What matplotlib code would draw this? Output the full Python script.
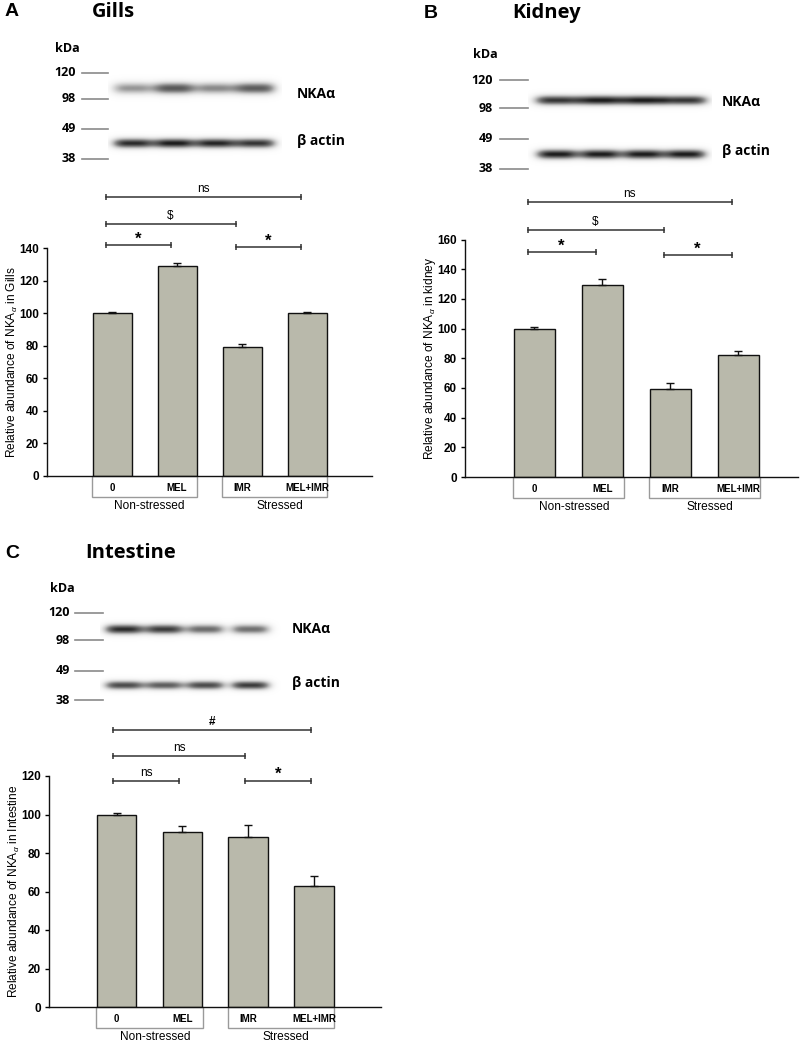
import numpy as np
import matplotlib
matplotlib.use('Agg')
import matplotlib.pyplot as plt
from matplotlib.patches import Rectangle
from matplotlib.transforms import blended_transform_factory

plt.rcParams['font.family'] = ['Liberation Sans', 'DejaVu Sans']
plt.rcParams['mathtext.fontset'] = 'custom'
plt.rcParams['mathtext.rm'] = 'Liberation Sans'
plt.rcParams['mathtext.it'] = 'Liberation Sans:italic'

# ---- data ----
groups = ['0', 'MEL', 'IMR', 'MEL+IMR']
conditions = ['Non-stressed', 'Stressed']

gills_mean = [100, 129, 79.5, 100.2]
gills_err = [1.0, 2.0, 1.5, 0.5]
gills_ticks = [0, 20, 40, 60, 80, 100, 120, 140]
gills_brackets = [(0, 3, 'ns'), (0, 2, '$'), (0, 1, '*'), (2, 3, '*')]
gills_bracket_y = [171.3, 154.7, 141.8, 140.6]

kidney_mean = [100, 129.5, 59, 82]
kidney_err = [0.8, 4.0, 4.5, 3.0]
kidney_ticks = [0, 20, 40, 60, 80, 100, 120, 140, 160]
kidney_brackets = [(0, 3, 'ns'), (0, 2, '$'), (0, 1, '*'), (2, 3, '*')]
kidney_bracket_y = [185.3, 166.4, 151.6, 149.6]

intestine_mean = [100, 91, 88.5, 63]
intestine_err = [1.0, 3.0, 6.0, 5.0]
intestine_ticks = [0, 20, 40, 60, 80, 100, 120]
intestine_brackets = [(0, 3, '#'), (0, 2, 'ns'), (0, 1, 'ns'), (2, 3, '*')]
intestine_bracket_y = [143.9, 130.4, 117.4, 117.4]

# western blot band intensities per lane (0..1)
marker_kda = ['120', '98', '49', '38']
gills_nka_band = [0.55, 0.8, 0.6, 0.78]
gills_actin_band = [0.95, 1.0, 0.97, 0.92]
kidney_nka_band = [0.92, 1.0, 1.0, 0.92]
kidney_actin_band = [1.0, 1.0, 1.0, 1.0]
intestine_nka_band = [0.95, 0.9, 0.72, 0.7]
intestine_actin_band = [0.85, 0.78, 0.85, 0.9]

BAR_COLOR = '#b9b9ab'
TITLE_FONT = ['Open Sans', 'Liberation Sans']
W, H = 809, 1050

fig = plt.figure(figsize=(W / 100, H / 100), dpi=100)
over = fig.add_axes([0, 0, 1, 1], zorder=0)
over.set_xlim(0, W)
over.set_ylim(H, 0)
over.axis('off')


def px_axes(x0, y0, x1, y1):
    return fig.add_axes([x0 / W, 1 - y1 / H, (x1 - x0) / W, (y1 - y0) / H], zorder=2)


def draw_blot(lanes, rows, x0, x1, y0, y1):
    X, Y = np.meshgrid(np.arange(x0, x1, 0.5), np.arange(y0, y1, 0.5))
    img = np.zeros_like(X, dtype=float)
    for yc, thick, halfw, inten in rows:
        for cx, a in zip(lanes, inten):
            img += a * np.exp(-(np.abs(X - cx) / halfw) ** 4) * np.exp(-((Y - yc) / thick) ** 2)
    img = np.clip(img, 0, 1)
    over.imshow(img, extent=(x0, x1, y1, y0), cmap='Greys', vmin=0, vmax=1.1,
                interpolation='bilinear', aspect='auto', zorder=1)


def draw_markers(text_right, line_x0, line_x1, ys, kda_xy, nka_xy, actin_xy):
    over.text(kda_xy[0], kda_xy[1], 'kDa', fontsize=9, fontweight='bold', va='center', ha='left',
              family=TITLE_FONT)
    for lab, y in zip(marker_kda, ys):
        over.text(text_right, y, lab, fontsize=9, fontweight='bold', va='center', ha='right',
                  family=TITLE_FONT)
        over.plot([line_x0, line_x1], [y, y], color='#8a8a8a', lw=1.2)
    over.text(nka_xy[0], nka_xy[1], 'NKAα', fontsize=10, fontweight='bold', va='center', ha='left',
              family=TITLE_FONT)
    over.text(actin_xy[0], actin_xy[1], 'β actin', fontsize=10, fontweight='bold', va='center',
              ha='left', family=TITLE_FONT)


def panel_title(xl, xt, y, letter, name):
    over.text(xl, y, letter, fontsize=14, fontweight='bold', va='center')
    over.text(xt, y, name, fontsize=14.5, fontweight='bold', va='center', family=TITLE_FONT)


def bar_panel(rect, means, errs, ticks, organ, brackets, br_y, br_off, xlim):
    ax = px_axes(*rect)
    ax.patch.set_visible(False)
    x = np.arange(len(groups))
    ax.bar(x, means, width=0.6, color=BAR_COLOR, edgecolor='#111111', linewidth=1.0, zorder=2)
    ax.errorbar(x, means, yerr=[np.zeros(len(errs)), errs], fmt='none', ecolor='#111111',
                elinewidth=1.0, capsize=3, capthick=1.0, zorder=3)
    ax.set_xlim(*xlim)
    ax.set_ylim(0, ticks[-1])
    ax.set_yticks(ticks)
    ax.set_xticks([])
    for s in ['top', 'right']:
        ax.spines[s].set_visible(False)
    for s in ['left', 'bottom']:
        ax.spines[s].set_color('#111111')
        ax.spines[s].set_linewidth(1.0)
    ax.tick_params(axis='y', length=3, width=1, labelsize=8.5, pad=3)
    for t in ax.get_yticklabels():
        t.set_fontweight('bold')
    ax.set_ylabel('Relative abundance of NKA$_{\\alpha}$ in ' + organ, fontsize=8.6)
    h_px = rect[3] - rect[1]
    w_px = rect[2] - rect[0]
    ax.yaxis.set_label_coords(-27 / w_px, 0.5)

    # group boxes under the axis
    tr = blended_transform_factory(ax.transData, ax.transAxes)
    depth = 21 / h_px
    for k, cond in enumerate(conditions):
        i = 2 * k
        ax.add_patch(Rectangle((i - 0.31, -depth), 1.62, depth, transform=tr, fill=False,
                               edgecolor='#9a9a9a', lw=1.0, clip_on=False))
        ax.text(i + 0.58, -depth - 9 / h_px, cond, transform=tr, ha='center', va='center',
                fontsize=8.6)
    for i, g in enumerate(groups):
        ax.text(i, -12 / h_px, g, transform=tr, ha='center', va='center', fontsize=7,
                fontweight='bold')

    # significance brackets
    for (i, j, lab), y in zip(brackets, br_y):
        xa, xb = i + br_off, j + br_off
        ax.plot([xa, xb], [y, y], color='#333333', lw=1.1, marker='|', ms=5, mew=1.1,
                clip_on=False)
        if lab == '*':
            ax.annotate(lab, xy=((xa + xb) / 2, y), xytext=(0, 4.5), textcoords='offset points',
                        ha='center', va='center', fontsize=12, fontweight='bold',
                        annotation_clip=False)
        else:
            ax.annotate(lab, xy=((xa + xb) / 2, y), xytext=(0, 6), textcoords='offset points',
                        ha='center', va='center', fontsize=8.5,
                        fontweight='bold' if lab == '#' else 'normal', annotation_clip=False)
    return ax


# ---- A: Gills ----
panel_title(5, 92, 12, 'A', 'Gills')
draw_blot([133, 174, 215, 255], [(88, 6.0, 21, gills_nka_band), (143, 5.0, 21, gills_actin_band)],
          108, 282, 66, 162)
draw_markers(76, 82, 108, [73, 99, 129, 159], (55, 48), (297, 94), (297, 141))
bar_panel((47, 248, 372, 476), gills_mean, gills_err, gills_ticks, 'Gills',
          gills_brackets, gills_bracket_y, -0.1, (-1.0, 4.0))

# ---- B: Kidney ----
panel_title(424, 512, 13, 'B', 'Kidney')
draw_blot([557, 600, 643, 685], [(100, 5.0, 23, kidney_nka_band), (154, 5.0, 21.5, kidney_actin_band)],
          528, 712, 80, 172)
draw_markers(493, 500, 528, [80, 108, 139, 169], (473, 54), (722, 102), (722, 151))
bar_panel((465, 239.6, 798, 477), kidney_mean, kidney_err, kidney_ticks, 'kidney',
          kidney_brackets, kidney_bracket_y, -0.1, (-1.02, 3.875))

# ---- C: Intestine ----
panel_title(5, 85, 553, 'C', 'Intestine')
draw_blot([124, 164, 205, 250], [(629, 5.0, 20, intestine_nka_band), (685, 4.5, 20, intestine_actin_band)],
          100, 282, 610, 705)
draw_markers(70, 75, 103, [613, 640, 671, 700], (50, 589), (292, 629), (292, 683))
bar_panel((49, 776, 381, 1007), intestine_mean, intestine_err, intestine_ticks, 'Intestine',
          intestine_brackets, intestine_bracket_y, -0.05, (-1.03, 4.02))

fig.savefig('out.png', dpi=100)
